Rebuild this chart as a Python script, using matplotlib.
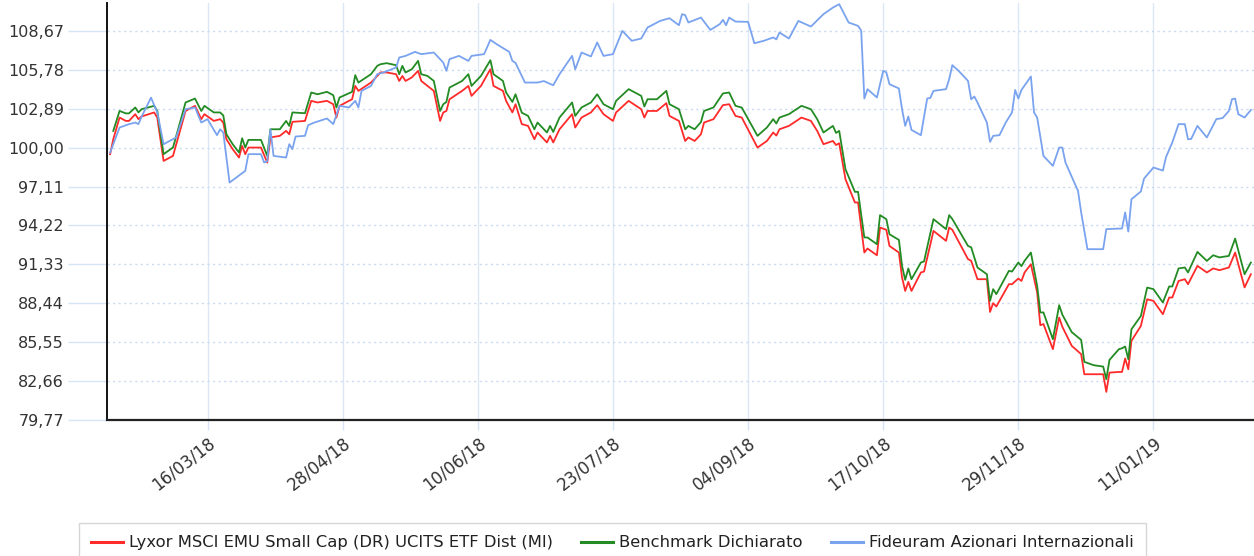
import matplotlib
matplotlib.use("Agg")
import matplotlib.pyplot as plt
import matplotlib.dates as mdates
import numpy as np
import pandas as pd

start = pd.Timestamp("2018-02-12")
end = pd.Timestamp("2019-02-12")

# days after 12/02/18 for the fund and its benchmark
fund_days = [1, 2, 4, 6, 7, 9, 10, 11, 15, 16, 18, 21, 25, 28, 30, 31, 34, 36, 37, 38,
             40, 42, 43, 44, 45, 49, 51, 52, 55, 57, 58, 59, 63, 65, 67, 70, 72, 73, 74, 78,
             79, 80, 84, 86, 87, 89, 92, 93, 94, 95, 97, 99, 100, 102, 104, 106, 107, 108, 109, 113,
             115, 116, 119, 122, 123, 126, 127, 129, 130, 132, 134, 136, 137, 140, 141, 142, 144, 148, 149, 151,
             154, 156, 158, 161, 162, 166, 170, 171, 172, 175, 178, 179, 182, 184, 185, 187, 189, 190, 193, 196,
             198, 200, 202, 207, 210, 212, 213, 214, 217, 221, 224, 226, 228, 231, 232, 233, 235, 238, 239, 241,
             242, 245, 246, 248, 249, 252, 253, 254, 255, 256, 259, 260, 263, 267, 268, 269, 274, 275, 277, 280,
             281, 282, 283, 287, 288, 290, 291, 292, 294, 296, 297, 298, 301, 303, 304, 307, 310, 311, 314, 317,
             318, 319, 322, 323, 324, 325, 326, 329, 331, 333, 336, 338, 339, 341, 343, 344, 347, 350, 352, 354,
             357, 359, 362, 364]

fund_values = [99.52, 100.63, 102.24, 101.99, 101.99, 102.49, 102.12, 102.32, 102.62, 102.24,
               99.02, 99.39, 102.73, 103.11, 102.12, 102.49, 101.99, 102.12, 101.87, 100.63,
               99.89, 99.27, 100.13, 99.52, 100.01, 100.01, 98.90, 100.76, 100.88, 101.25,
               101.00, 101.92, 101.99, 103.48, 103.36, 103.48, 103.23, 102.24, 103.11, 103.60,
               104.59, 104.22, 104.84, 105.33, 105.59, 105.59, 105.46, 104.96, 105.33, 104.96,
               105.22, 105.71, 104.96, 104.59, 104.22, 101.99, 102.62, 102.73, 103.60, 104.22,
               104.59, 103.85, 104.59, 105.83, 104.59, 104.22, 103.48, 102.62, 103.23, 101.75,
               101.62, 100.63, 101.13, 100.39, 100.88, 100.39, 101.37, 102.49, 101.50, 102.24,
               102.62, 103.16, 102.49, 101.99, 102.62, 103.48, 102.86, 102.24, 102.73, 102.73,
               103.31, 102.36, 101.99, 100.50, 100.76, 100.50, 101.00, 101.87, 102.12, 103.16,
               103.23, 102.36, 102.24, 100.01, 100.50, 101.13, 100.90, 101.37, 101.62, 102.24,
               101.99, 101.25, 100.26, 100.50, 100.20, 100.33, 97.66, 95.93, 95.93, 92.21,
               92.51, 92.01, 94.07, 93.90, 92.70, 92.21, 90.36, 89.36, 90.03, 89.36,
               90.73, 90.80, 93.82, 93.08, 94.07, 93.90, 91.72, 91.60, 90.23, 90.23,
               87.80, 88.45, 88.20, 89.86, 89.86, 90.28, 90.10, 90.73, 91.34, 89.25,
               86.81, 86.90, 85.03, 87.38, 86.70, 85.28, 84.66, 83.17, 83.17, 83.17,
               81.86, 83.29, 83.34, 83.34, 84.34, 83.54, 85.65, 86.76, 88.74, 88.62,
               87.63, 88.87, 88.87, 90.10, 90.23, 89.86, 91.22, 90.73, 91.03, 90.90,
               91.10, 92.21, 89.62, 90.60]

bench_values = [np.nan, 101.25, 102.73, 102.55, 102.55, 102.99, 102.62, 102.86, 103.11, 102.73,
                99.52, 100.01, 103.36, 103.65, 102.73, 103.11, 102.62, 102.62, 102.40, 101.00,
                100.26, 99.64, 100.70, 100.01, 100.58, 100.58, 99.39, 101.37, 101.37, 101.99,
                101.62, 102.62, 102.56, 104.10, 103.97, 104.15, 103.90, 102.99, 103.73, 104.15,
                105.39, 104.84, 105.46, 106.08, 106.20, 106.28, 106.13, 105.46, 106.08, 105.59,
                105.83, 106.45, 105.46, 105.33, 104.96, 102.73, 103.23, 103.40, 104.47, 104.96,
                105.46, 104.59, 105.33, 106.50, 105.46, 104.96, 104.10, 103.40, 103.97, 102.60,
                102.36, 101.37, 101.87, 101.13, 101.62, 101.17, 102.24, 103.36, 102.36, 102.99,
                103.36, 103.97, 103.23, 102.86, 103.48, 104.35, 103.85, 103.06, 103.60, 103.60,
                104.22, 103.23, 102.86, 101.37, 101.62, 101.37, 101.90, 102.73, 102.99, 104.03,
                104.10, 103.11, 102.98, 100.88, 101.50, 102.12, 101.80, 102.24, 102.49, 103.11,
                102.86, 102.12, 101.13, 101.62, 101.10, 101.25, 98.40, 96.72, 96.72, 93.33,
                93.33, 92.83, 94.99, 94.69, 93.57, 93.15, 91.22, 90.18, 91.03, 90.23,
                91.47, 91.55, 94.69, 93.95, 94.99, 94.70, 92.70, 92.60, 91.10, 90.60,
                88.62, 89.49, 89.12, 90.85, 90.80, 91.47, 91.20, 91.60, 92.21, 89.73,
                87.76, 87.76, 85.77, 88.30, 87.60, 86.30, 85.72, 84.09, 83.84, 83.74,
                82.80, 84.23, 85.03, 85.10, 85.23, 84.29, 86.51, 87.50, 89.61, 89.49,
                88.50, 89.69, 89.69, 91.03, 91.10, 90.73, 92.26, 91.59, 92.01, 91.85,
                91.96, 93.25, 90.60, 91.47]

# days after 12/02/18 for the peer category
peer_days = [1, 4, 7, 9, 10, 11, 14, 16, 18, 22, 25, 28, 30, 32, 35, 36, 37, 39, 44, 45,
             49, 50, 51, 52, 53, 57, 58, 59, 60, 63, 64, 66, 70, 72, 74, 77, 79, 80, 81, 84,
             86, 88, 92, 93, 95, 98, 100, 104, 107, 108, 109, 112, 115, 116, 120, 122, 124, 128, 129, 130,
             133, 137, 139, 142, 144, 148, 149, 151, 154, 156, 158, 161, 164, 167, 168, 170, 172, 176, 179, 182,
             183, 184, 185, 189, 192, 195, 196, 197, 198, 200, 204, 206, 209, 212, 213, 214, 217, 220, 224, 228,
             231, 233, 236, 239, 240, 241, 242, 245, 247, 248, 249, 252, 253, 254, 255, 256, 259, 261, 262, 263,
             267, 268, 269, 271, 274, 275, 276, 277, 280, 281, 282, 284, 286, 288, 289, 290, 291, 294, 295, 296,
             298, 301, 303, 304, 305, 309, 310, 312, 317, 318, 323, 324, 325, 326, 329, 330, 333, 336, 337, 339,
             341, 343, 344, 345, 347, 350, 353, 355, 357, 358, 359, 360, 362, 364]

peer_values = [99.64, 101.50, 101.75, 101.87, 101.75, 102.30, 103.72, 102.62, 100.26, 100.76,
               102.86, 102.99, 101.87, 102.12, 100.93, 101.37, 101.13, 97.41, 98.28, 99.52,
               99.52, 98.90, 99.00, 101.37, 99.39, 99.27, 100.26, 99.89, 100.83, 100.88,
               101.67, 101.87, 102.17, 101.75, 103.11, 102.99, 103.48, 102.99, 104.22, 104.59,
               105.46, 105.59, 105.96, 106.70, 106.82, 107.12, 106.95, 107.07, 106.33, 105.71,
               106.58, 106.82, 106.45, 106.82, 106.95, 108.01, 107.69, 107.12, 106.45, 106.30,
               104.84, 104.84, 104.95, 104.64, 105.46, 106.82, 105.83, 107.07, 106.78, 107.82,
               106.82, 106.95, 108.68, 107.94, 108.00, 108.11, 108.93, 109.42, 109.62, 109.10,
               109.92, 109.85, 109.30, 109.67, 108.75, 109.18, 109.50, 109.10, 109.67, 109.37,
               109.35, 107.76, 107.94, 108.19, 108.05, 108.56, 108.11, 109.42, 109.00, 109.92,
               110.41, 110.66, 109.30, 109.05, 108.70, 103.65, 104.35, 103.73, 105.71, 105.60,
               104.72, 104.40, 102.86, 101.62, 102.32, 101.32, 100.93, 103.65, 103.70, 104.22,
               104.35, 105.09, 106.13, 105.71, 104.96, 103.60, 103.80, 103.36, 101.87, 100.43,
               100.88, 100.93, 101.87, 102.62, 104.29, 103.65, 104.29, 105.29, 102.62, 102.24,
               99.39, 98.65, 100.01, 100.01, 98.90, 96.79, 95.19, 92.46, 92.46, 93.95,
               94.00, 95.19, 93.77, 96.17, 96.75, 97.70, 98.53, 98.30, 99.30, 100.39,
               101.75, 101.75, 100.63, 100.65, 101.62, 100.76, 102.12, 102.20, 102.73, 103.60,
               103.65, 102.49, 102.24, 102.80]

labels = ["Lyxor MSCI EMU Small Cap (DR) UCITS ETF Dist (MI)",
          "Benchmark Dichiarato",
          "Fideuram Azionari Internazionali"]
colors = ["#ff2a2a", "#238b23", "#7aa3ef"]

ytick_values = [79.77, 82.66, 85.55, 88.44, 91.33, 94.22, 97.11, 100.00, 102.89, 105.78, 108.67]
xtick_dates = ["2018-03-16", "2018-04-28", "2018-06-10", "2018-07-23",
               "2018-09-04", "2018-10-17", "2018-11-29", "2019-01-11"]

fund_dates = start + pd.to_timedelta(fund_days, unit="D")
peer_dates = start + pd.to_timedelta(peer_days, unit="D")

fig = plt.figure(figsize=(12.54, 5.56), dpi=100)
ax = fig.add_axes([107 / 1254, 1 - 420 / 556, 1 - 107 / 1254, 417 / 556])

l1, = ax.plot(fund_dates, fund_values, color=colors[0], lw=1.3)
l2, = ax.plot(fund_dates, bench_values, color=colors[1], lw=1.3)
l3, = ax.plot(peer_dates, peer_values, color=colors[2], lw=1.3)

ax.set_xlim(start, end)
ax.set_ylim(79.77, 110.75)

ax.set_yticks(ytick_values)
ax.set_yticklabels([f"{v:.2f}".replace(".", ",") for v in ytick_values])
ax.set_xticks(pd.to_datetime(xtick_dates))
ax.xaxis.set_major_formatter(mdates.DateFormatter("%d/%m/%y"))

ax.set_axisbelow(True)
ax.yaxis.grid(True, linestyle=(0, (1.5, 2.5)), color="#c9daf0", lw=1)
ax.xaxis.grid(True, linestyle="-", color="#dce7f6", lw=1)

ax.tick_params(axis="y", length=28, width=1, color="#d6e4f5", pad=3,
               labelsize=11.5, labelcolor="#333333")
ax.tick_params(axis="x", length=7, width=1, color="#d6e4f5", pad=3,
               labelsize=12, labelcolor="#333333")
for lab in ax.get_xticklabels():
    lab.set_rotation(38)
    lab.set_ha("right")
    lab.set_va("top")
    lab.set_rotation_mode("anchor")

for s in ["top", "right"]:
    ax.spines[s].set_visible(False)
ax.spines["left"].set_color("#111111")
ax.spines["left"].set_linewidth(1.4)
ax.spines["bottom"].set_color("#222222")
ax.spines["bottom"].set_linewidth(1.6)

leg = fig.legend([l1, l2, l3], labels, loc="upper left",
                 bbox_to_anchor=(79 / 1254, 1 - 523 / 556), ncol=3,
                 frameon=True, fancybox=False, edgecolor="#cccccc",
                 fontsize=11.8, handlelength=1.95, handletextpad=0.37,
                 columnspacing=1.7, borderpad=0.75, borderaxespad=0)
leg.get_frame().set_linewidth(1)
for h in leg.get_lines():
    h.set_linewidth(2.2)
for t in leg.get_texts():
    t.set_color("#222222")

fig.savefig("out.png", dpi=100)
